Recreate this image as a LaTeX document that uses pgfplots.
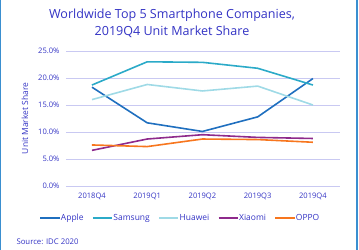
\documentclass[border=0pt]{standalone}
\usepackage{pgfplots}
\pgfplotsset{compat=1.18}
\usepackage{fontspec}
\setmainfont{Open Sans}
\definecolor{txt}{HTML}{3333C4}
\definecolor{gridc}{HTML}{C9C9F2}
\definecolor{frame}{HTML}{3A8FD0}
\definecolor{capple}{HTML}{1F6FBF}
\definecolor{csamsung}{HTML}{2BAAC8}
\definecolor{chuawei}{HTML}{9FDAE6}
\definecolor{cxiaomi}{HTML}{8E2A8C}
\definecolor{coppo}{HTML}{F7761E}
\begin{document}
\begin{tikzpicture}[x=1bp,y=1bp]
\useasboundingbox (-66,-64) rectangle (293,186);
\draw[frame,line width=1.2bp] (-65.5,-64) -- (-65.5,186);
\draw[frame,line width=1.2bp] (291,-64) -- (291,186);
\begin{axis}[
  at={(0,0)}, anchor=south west,
  scale only axis, width=274bp, height=135bp,
  xmin=-0.47, xmax=4.49, ymin=0, ymax=25,
  xtick={0,1,2,3,4},
  xticklabels={2018Q4,2019Q1,2019Q2,2019Q3,2019Q4},
  ytick={0,5,10,15,20,25},
  yticklabels={0.0\%,5.0\%,10.0\%,15.0\%,20.0\%,25.0\%},
  ymajorgrids, grid style={gridc, line width=0.8bp},
  axis line style={draw=none},
  major tick length=0pt,
  tick label style={font=\fontsize{7.6}{8}\selectfont, text=txt},
  xticklabel style={yshift=-3bp},
  yticklabel style={xshift=-3bp},
  ylabel={Unit Market Share},
  ylabel style={font=\fontsize{8.5}{9}\selectfont, text=txt, at={(-41bp,0.5)}, anchor=center},
  legend style={at={(0.415,-0.237)}, anchor=center, draw=none, fill=none,
    font=\fontsize{8.5}{9}\selectfont, text=txt, column sep=0bp,
    nodes={inner xsep=0.5bp},
    /tikz/every even column/.append style={column sep=8bp}},
  legend columns=5,
  legend image code/.code={\draw[#1,line width=1.6bp] (0cm,0) -- (0.68cm,0);},
  legend cell align=left,
  every axis plot/.append style={line width=1.6bp, mark=none},
]
\addplot[capple] coordinates {(0,18.3) (1,11.7) (2,10.1) (3,12.8) (4,19.9)};
\addlegendentry{Apple}
\addplot[csamsung] coordinates {(0,18.7) (1,23.0) (2,22.9) (3,21.8) (4,18.7)};
\addlegendentry{Samsung}
\addplot[chuawei] coordinates {(0,16.0) (1,18.8) (2,17.6) (3,18.5) (4,15.0)};
\addlegendentry{Huawei}
\addplot[cxiaomi] coordinates {(0,6.6) (1,8.7) (2,9.5) (3,9.0) (4,8.8)};
\addlegendentry{Xiaomi}
\addplot[coppo] coordinates {(0,7.6) (1,7.3) (2,8.7) (3,8.6) (4,8.1)};
\addlegendentry{OPPO}
\end{axis}
\node[text=txt, font=\fontsize{12.6}{17}\selectfont, align=center] at (106,162.5) {Worldwide Top 5 Smartphone Companies,\\2019Q4 Unit Market Share};
\node[text=txt, font=\fontsize{7.8}{8}\selectfont, anchor=west] at (-53,-56) {Source: IDC 2020};
\end{tikzpicture}
\end{document}
